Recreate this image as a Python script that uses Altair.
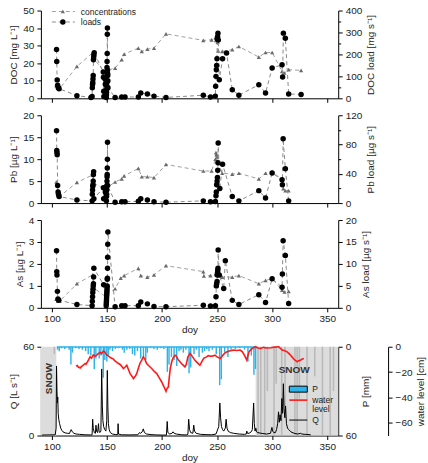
import altair as alt
import pandas as pd

FONT = "Liberation Sans"
X_DOMAIN = [90, 360]
X_TICKS = [100, 150, 200, 250, 300, 350]
PANEL_W = 298
PANEL_H = 88

# ---------------- DOC ----------------
doc_conc_doy = [104.0, 105.5, 107.0, 122.7, 136.9, 137.5, 138.2, 149.0, 150.0, 157.4, 163.4, 165.6,
                178.5, 181.6, 186.7, 192.7, 203.6, 237.5, 245.0, 248.5, 249.0, 249.5, 250.0, 250.5,
                251.0, 254.7, 263.8, 269.8, 287.9, 294.0, 300.0, 309.0, 311.2, 315.0, 326.3]
doc_conc = [7.2, 6.0, 5.5, 18.2, 25.8, 24.5, 22.5, 14.0, 16.0, 17.2, 22.0, 25.2,
            28.6, 26.7, 28.0, 28.6, 36.7, 33.0, 33.3, 34.5, 33.0, 36.0, 34.0, 32.0,
            27.0, 26.7, 27.7, 29.5, 23.5, 26.1, 26.1, 15.3, 14.4, 16.3, 15.9]
doc_load_doy = [104.2, 104.4, 104.8, 105.2, 105.8, 106.5, 122.7, 135.5,
                136.5, 136.7, 136.9, 137.1, 137.3, 137.5, 137.7, 137.9, 138.1, 138.4,
                146.6, 146.8, 147.0, 147.2, 148.3, 148.5, 148.7,
                149.4, 149.5, 149.6, 149.7, 149.8, 149.9, 150.0, 150.1, 150.2, 150.3, 150.4,
                150.5, 150.6, 150.7, 150.8, 150.9,
                157.4, 163.4, 166.4, 178.5, 180.7, 186.7, 192.7, 203.6, 237.5, 244.0,
                248.4, 248.7, 249.0, 249.3, 249.6, 249.9, 250.2, 250.5, 250.8, 251.1, 252.0,
                255.0, 258.6, 263.8, 269.8, 287.9, 294.0, 300.0, 309.0, 309.5, 310.2, 312.0,
                315.0, 326.3]
doc_load = [222, 168, 84, 60, 48, 44, 12, 4,
            8, 48, 64, 72, 88, 104, 176, 184, 196, 208,
            120, 96, 32, 8, 88, 64, 24,
            4, 16, 28, 40, 56, 72, 140, 168, 204, 292, 320,
            128, 112, 104, 80, 48,
            4, 6, 6, 6, 24, 20, 10, 4, 14, 6,
            10, 55, 100, 130, 150, 180, 270, 280, 297, 266, 85,
            180, 206, 39, 14, 62, 24, 138, 153, 97, 297, 274,
            20, 17]

# ---------------- Pb ----------------
pb_conc_doy = [104.0, 105.5, 107.0, 122.7, 136.9, 137.5, 138.2, 149.0, 150.0, 157.4, 163.4, 165.6,
               178.5, 181.6, 186.7, 192.7, 203.6, 237.5, 245.0, 248.5, 249.0, 249.5, 250.0, 250.5,
               254.7, 263.8, 269.8, 287.9, 294.0, 300.0, 309.0, 310.2, 312.0, 315.0]
pb_conc = [4.8, 1.9, 1.5, 4.7, 6.4, 5.5, 4.5, 3.0, 3.5, 4.8, 5.5, 6.2,
           7.9, 6.0, 6.0, 5.8, 8.8, 7.3, 7.3, 10.0, 11.5, 11.0, 10.5, 9.5,
           6.8, 6.6, 6.8, 5.5, 6.8, 7.2, 5.3, 3.3, 2.8, 2.8]
pb_load_doy = [104.2, 104.4, 104.6, 104.8, 105.2, 105.6, 106.0, 106.5, 122.7,
               136.5, 136.7, 136.9, 137.1, 137.3, 137.5, 137.7, 137.9, 138.1,
               146.8, 147.0, 148.5,
               149.5, 149.6, 149.7, 149.8, 149.9, 150.0, 150.1, 150.2, 150.3, 150.4, 150.5, 150.6,
               157.4, 163.4, 166.4, 178.5, 180.7, 186.7, 192.7, 203.6, 237.5, 244.0,
               248.5, 249.0, 249.3, 249.6, 250.0, 250.3, 250.6, 250.8, 251.0, 252.5,
               255.0, 263.8, 269.8, 287.9, 294.0, 300.0, 309.0, 309.3, 310.0, 312.0, 315.0]
pb_load = [99, 72, 69, 66, 24, 15, 12, 9, 4.2,
           3, 12, 18, 23, 25, 30, 39, 43, 6,
           21, 6, 15,
           3, 9, 12, 18, 24, 30, 36, 39, 48, 60, 83, 24,
           1.2, 1.8, 1.8, 2.4, 6, 4.2, 1.8, 1.2, 3, 1.8,
           2, 10, 15, 25, 30, 35, 45, 55, 82, 20,
           53, 9, 3, 17, 7, 41, 32, 25, 88, 47, 3]

# ---------------- As ----------------
as_conc_doy = [104.0, 105.5, 107.0, 122.7, 136.9, 137.5, 138.2, 149.0, 150.0, 157.4, 162.5, 165.6,
               178.5, 180.7, 186.7, 192.7, 203.6, 237.5, 238.0, 244.0, 248.8, 249.5, 254.7, 263.8,
               269.8, 287.9, 294.0, 300.0, 309.0, 311.2, 315.0]
as_conc = [0.4, 0.3, 0.3, 1.1, 1.5, 1.2, 0.9, 0.5, 0.6, 0.87, 1.35, 1.47,
           1.8, 1.47, 1.4, 1.5, 1.92, 1.65, 1.45, 1.47, 1.55, 1.5, 1.4, 1.4,
           1.47, 1.1, 1.25, 1.32, 0.8, 0.72, 0.75]
as_load_doy = [104.2, 104.4, 104.6, 105.0, 105.5, 106.2, 122.7,
               136.5, 136.7, 136.9, 137.1, 137.3, 137.5, 137.7, 137.9, 138.1,
               147.0, 149.3, 149.4, 149.5, 149.6, 149.7, 149.8, 149.9, 150.0, 150.1, 150.2,
               150.3, 150.4, 150.5, 150.6, 150.7, 150.8,
               157.4, 163.4, 166.4, 178.5, 180.7, 186.7, 192.7, 203.6, 237.5, 244.0,
               248.5, 249.0, 249.3, 249.6, 250.0, 250.2, 250.4, 250.6, 250.8, 251.0, 252.0,
               256.0, 257.5, 263.8, 269.8, 287.9, 294.0, 300.0, 309.0, 309.3, 310.0, 312.0, 315.0]
as_load = [13, 8.25, 7.5, 3.75, 2, 1.75, 0.75,
           0.5, 1.5, 2.5, 3.5, 4.25, 5, 5.5, 7, 9,
           5.25, 0.5, 1, 1.5, 2, 2.5, 3, 3.5, 4, 4.5, 5,
           6.5, 6.75, 9, 11.5, 14.5, 17.25,
           0.25, 0.5, 0.5, 0.5, 1.35, 0.9, 0.3, 0.25, 0.6, 0.4,
           0.5, 2.5, 5, 5.5, 6, 7.5, 8, 8.5, 9, 13.2, 7.5,
           4.4, 10.75, 1.7, 0.75, 3, 1.2, 6.6, 4.7, 7.7, 15.3, 11.9, 1]

# ---------------- Hydrology ----------------
q_doy = [91, 103, 103.8, 104.2, 104.6, 105, 105.3, 105.7, 106.2, 107, 108, 109, 110, 112, 114, 116,
         117, 117.5, 118.5, 120, 122, 125, 130, 135, 136.5, 137, 137.5, 138.5, 139.5, 140, 140.5,
         141.5, 142.3, 142.8, 143.5, 144.5, 145.2, 145.8, 146.3, 147, 148, 149, 149.8, 150.3, 150.8,
         151.3, 152, 153, 155, 158, 159.8, 160.1, 160.5, 163, 170, 178, 179.5, 180.5, 182, 183, 184,
         186, 190, 195, 200, 204, 204.7, 205.3, 207, 209, 210, 211, 213, 218, 222, 223.5, 224.2, 225,
         226, 228, 228.8, 229.5, 231, 235, 240, 245, 249, 250, 251.5, 252.5, 253.2, 254, 255, 256,
         257.5, 258.2, 259, 260, 262, 265, 270, 275, 276.5, 277, 277.6, 279, 281, 282, 283.2, 283.8,
         284.5, 285.2, 285.8, 287, 290, 295, 298.5, 299.8, 300.5, 301.5, 303, 304, 305, 305.8, 306.5,
         307.2, 308, 308.8, 309.5, 310.2, 310.8, 311.5, 312.2, 313, 314, 315, 317, 320, 323, 326, 327,
         330, 335]
q_val = [0.3, 0.5, 5, 47, 30, 22, 26, 15, 11, 8, 5, 3.5, 2.5, 1.8, 1.5, 1.4,
         3.5, 4, 2.5, 1.5, 1, 0.8, 0.5, 0.4, 0.5, 11, 5, 2, 1.5, 7, 3,
         2, 8, 3, 2, 3, 45, 20, 10, 6, 4, 3, 10, 44, 20,
         8, 4, 2, 1, 0.6, 0.7, 8, 1, 0.5, 0.4, 0.5, 2, 1.5, 2.5, 4.5, 2,
         1, 0.6, 0.4, 0.3, 0.3, 9.5, 2, 1, 1.5, 2.5, 1.5, 1, 0.5, 0.4, 0.8, 11, 4,
         2, 1.5, 7, 3, 1.5, 0.8, 0.6, 0.5, 1, 3, 6, 22, 12, 6, 4, 3,
         5, 11, 5, 3, 2, 1.5, 1, 0.8, 1, 3, 1.5, 1.5, 2.5, 4, 22, 8,
         3, 5, 2.5, 2, 1.5, 1, 1.5, 5.5, 3, 2, 2, 4, 8, 16, 9,
         14, 10, 25, 15, 35, 18, 12, 20, 8, 5, 4, 2.5, 1.5, 1, 1.5, 1,
         0.8, 0.5]

p_doy = [104.5, 106, 108, 111, 115, 116.6, 118, 121, 124, 127, 130, 132.3, 134.7, 137.8, 139.3,
         142.3, 143.8, 146, 147.4, 149.2, 150.5, 152, 154.4, 157, 160, 163.4, 165, 167.4, 170,
         172.5, 174.6, 177, 180, 182.5, 184.6, 186, 189, 192, 195, 198, 201, 204.2, 205.7, 207.9,
         210.3, 212.7, 214.8, 216.5, 218.7, 221, 223.9, 225.4, 228.4, 230.5, 233, 236, 238, 240,
         242, 245, 248.6, 251.7, 253.2, 256.2, 259.2, 262, 266, 270, 274.3, 277.4, 280.4, 282.8,
         284.2]
p_mm = [2, 3, 1, 1.5, 2, 12, 4, 1, 1.5, 2, 3, 5, 6, 15, 8,
        8, 6, 21, 9, 10, 6, 2, 3, 1.5, 1, 2, 4, 2, 1.5,
        5, 6, 3, 8, 7, 9, 4, 1, 1.5, 2, 1, 1.5, 17, 12, 7,
        9, 13, 3, 2, 4, 2, 18, 14, 5, 2, 7, 4, 3, 1.5,
        3, 2, 5, 26, 22, 4, 7, 2, 1.5, 1, 2, 10, 6, 19,
        15]

snowfall_doy = [101.5, 286.5, 289, 292.5, 295, 301, 303, 308, 311, 320, 322, 324,
                331, 338, 345, 352, 355]
snowfall_mm = [5, 60, 60, 60, 30, 60, 25, 60, 40, 60, 60, 35,
               60, 20, 60, 60, 30]

snow_start = [90, 285]
snow_end = [104, 360]

wl_doy = [122, 123, 124, 125.7, 127, 128.5, 130.2, 131, 132.5, 134.7, 136, 137.5, 139, 140.8, 142,
          143.8, 145, 146.8, 148, 149.8, 151, 153, 155.9, 157, 158.5, 160.4, 162, 163.5, 165, 166.5,
          168, 169.5, 171, 172.5, 174, 175.5, 177, 178.5, 180, 181.6, 183, 184.5, 186, 188, 190.6,
          193, 195.2, 197.5, 199.7, 201.5, 203.6, 204.5, 205.7, 206.5, 207.5, 208.8, 210, 211.8,
          213, 214.5, 216.3, 218, 220.8, 222, 223.5, 225.4, 227, 228.5, 229.9, 232, 234.4, 236,
          238, 240.5, 242, 244, 246.5, 248, 250, 253, 255, 257, 259, 262, 265, 268, 271, 273, 275,
          277, 278, 279, 280.5, 282, 285, 287, 289.5, 292, 295, 298.6, 302, 306, 309, 311, 313.6,
          316, 318, 320, 322.7, 324, 325.7, 327, 328.8]
wl_cm = [-15.4, -14.8, -16, -16.7, -15.5, -14.5, -13.2, -13.8, -11.5, -8, -9, -6.5, -7.5, -6.6, -5.5,
         -4.5, -5.5, -3.4, -4, -6.6, -7, -8.5, -9.8, -11, -12, -13.2, -14, -15.5, -17.2, -16,
         -14.6, -18, -21.2, -23, -25.2, -23.5, -21.2, -17, -13, -10.6, -8, -10, -13.2, -15, -17.2,
         -19.5, -21.2, -24.5, -27.8, -31, -35.2, -33, -31.8, -25, -17, -11.9, -9, -6.6,
         -7.5, -10, -11.9, -13.5, -15.9, -14, -8, -5.3, -7, -9, -10.6, -12.5, -14.6, -12,
         -9, -8, -7, -7.5, -7.2, -6.6, -8, -9.3, -7, -5, -4, -3.2, -2.6, -3, -2.6, -4, -7,
         -10.6, -7, -4, -2.5, -1.3, 0, -1, -1.3, -0.5, -1, -0.8, -0.3, 0, -2.6, -3, -4,
         -6, -8, -10, -11.9, -11, -10.6, -9.8, -9.3]

AXIS_COMMON = dict(tickSize=4, labelPadding=3, titlePadding=4, grid=False)


def x_enc(field, last):
    ax = alt.Axis(values=X_TICKS, labels=last, title="doy" if last else None,
                  tickSize=4, labelPadding=2, titlePadding=1, grid=False)
    return alt.X(f"{field}:Q", scale=alt.Scale(domain=X_DOMAIN, nice=False, zero=False), axis=ax)


def right_axis(title, major, minor):
    """Right-hand axis with labelled major ticks and shorter unlabelled minor ticks."""
    values = sorted(set(major) | set(minor))
    major_test = " || ".join(f"datum.value == {v}" for v in major)
    return alt.Axis(orient="right", values=values, title=title, titleAngle=270, titleBaseline="top",
                    labelExpr=f"({major_test}) ? datum.label : ''",
                    tickSize={"condition": {"test": major_test, "value": 4}, "value": 2.5},
                    labelPadding=3, titlePadding=4, grid=False)


def chem_panel(cdoy, cval, ldoy, lval, ltitle, rtitle, lmax, rmax, lticks, rticks, rminor,
               last=False, extra=None):
    conc = pd.DataFrame({"doy": cdoy, "value": cval})
    load = pd.DataFrame({"doy": ldoy, "value": lval})
    yl = alt.Y("value:Q", scale=alt.Scale(domain=[0, lmax], nice=False),
               axis=alt.Axis(orient="left", values=lticks, title=ltitle, **AXIS_COMMON))
    yr = alt.Y("value:Q", scale=alt.Scale(domain=[0, rmax], nice=False),
               axis=right_axis(rtitle, rticks, rminor))
    bc = alt.Chart(conc).encode(x=x_enc("doy", last), y=yl)
    bl = alt.Chart(load).encode(x=x_enc("doy", last), y=yr)
    conc_layer = alt.layer(
        bc.mark_line(color="#a0a0a0", strokeWidth=1, strokeDash=[4, 3]),
        bc.mark_point(shape="triangle-up", filled=True, color="#6a6a6a", size=18, opacity=1),
    )
    load_layer = alt.layer(
        bl.mark_line(color="#8a8a8a", strokeWidth=1, strokeDash=[4, 3]),
        bl.mark_circle(color="#000000", size=30, opacity=1),
    )
    layers = [conc_layer, load_layer]
    if extra:
        layers += extra
    return alt.layer(*layers).resolve_scale(y="independent").properties(width=PANEL_W, height=PANEL_H)


# legend for the chemistry series
legend_rows = pd.DataFrame({"label": ["concentrations", "loads"], "row": [0, 1]})
leg_line_c = alt.Chart(legend_rows).transform_filter("datum.row == 0").mark_rule(
    color="#a0a0a0", strokeDash=[4, 3]).encode(x=alt.value(11), x2=alt.value(34), y=alt.value(1))
leg_line_l = alt.Chart(legend_rows).transform_filter("datum.row == 1").mark_rule(
    color="#8a8a8a", strokeDash=[4, 3]).encode(x=alt.value(11), x2=alt.value(34), y=alt.value(11.5))
leg_tri = alt.Chart(legend_rows).transform_filter("datum.row == 0").mark_point(
    shape="triangle-up", filled=True, color="#6a6a6a", size=18, opacity=1).encode(
    x=alt.value(22), y=alt.value(1))
leg_dot = alt.Chart(legend_rows).transform_filter("datum.row == 1").mark_circle(
    color="#000000", size=30, opacity=1).encode(x=alt.value(22), y=alt.value(11.5))
leg_text = alt.Chart(legend_rows).mark_text(align="left", baseline="middle", fontSize=8.5,
                                             font=FONT, color="#222222").encode(
    x=alt.value(40), y=alt.Y("row:Q", scale=alt.Scale(domain=[0, 1], range=[1, 11.5]), axis=None),
    text="label:N")

p1 = chem_panel(doc_conc_doy, doc_conc, doc_load_doy, doc_load,
                "DOC [mg L⁻¹]", "DOC load [mg s⁻¹]", 50, 400,
                [0, 10, 20, 30, 40, 50], [0, 100, 200, 300, 400], [50, 150, 250, 350],
                extra=[alt.layer(leg_line_c, leg_line_l, leg_tri, leg_dot, leg_text)])
p2 = chem_panel(pb_conc_doy, pb_conc, pb_load_doy, pb_load,
                "Pb [µg L⁻¹]", "Pb load [µg s⁻¹]", 20, 120,
                [0, 5, 10, 15, 20], [0, 40, 80, 120], [20, 60, 100])
p3 = chem_panel(as_conc_doy, as_conc, as_load_doy, as_load,
                "As [µg L⁻¹]", "As load [µg s⁻¹]", 4, 20,
                [0, 1, 2, 3, 4], [0, 5, 10, 15, 20], [], last=True)

# ---------------- hydrology panel ----------------
p_df = pd.DataFrame({"start": p_doy, "end": [d + 1.3 for d in p_doy], "p": p_mm})
p_span = pd.DataFrame({"start": [min(p_doy)], "end": [max(p_doy) + 1.3]})
sf_df = pd.DataFrame({"start": snowfall_doy, "end": [d + 1.4 for d in snowfall_doy], "p": snowfall_mm})
snow_df = pd.DataFrame({"start": snow_start, "end": snow_end})
q_df = pd.DataFrame({"doy": q_doy, "q": q_val})
wl_df = pd.DataFrame({"doy": wl_doy, "wl": wl_cm})

P_BLUE = "#2cb3ea"
p_scale = alt.Scale(domain=[0, 60], reverse=True, nice=False)
p_axis = alt.Axis(orient="right", values=[0, 10, 20, 30, 40, 50, 60], title="P [mm]",
                  titleAngle=270, titleBaseline="top", **AXIS_COMMON)

snow_bg = alt.Chart(snow_df).mark_rect(color="#dcdcdc").encode(
    x=x_enc("start", True), x2="end", y=alt.value(0), y2=alt.value(PANEL_H + 1))
snowfall = alt.Chart(sf_df).mark_rect(color="#b9b9b9").encode(
    x=x_enc("start", True), x2="end",
    y=alt.Y("p:Q", scale=p_scale, axis=p_axis), y2=alt.datum(0))
rain = alt.Chart(p_df).mark_rect(color=P_BLUE).encode(
    x=x_enc("start", True), x2="end",
    y=alt.Y("p:Q", scale=p_scale, axis=p_axis), y2=alt.datum(0))
rain_base = alt.Chart(p_span).mark_rule(color=P_BLUE, strokeWidth=1.5).encode(
    x=x_enc("start", True), x2="end", y=alt.datum(0.2, scale=p_scale))
p_group = alt.layer(snow_bg, snowfall, rain, rain_base)

wl_line = alt.Chart(wl_df).mark_line(color="#ff1a1a", strokeWidth=1.6).encode(
    x=x_enc("doy", True),
    y=alt.Y("wl:Q", scale=alt.Scale(domain=[-70, 0], nice=False),
            axis=alt.Axis(orient="right", offset=50, values=[0, -20, -40, -60],
                          title="water level [cm]", titleAngle=270, titleBaseline="top",
                          **AXIS_COMMON)))

q_enc_y = alt.Y("q:Q", scale=alt.Scale(domain=[0, 60], nice=False),
                axis=alt.Axis(orient="left", values=[0, 10, 20, 30, 40, 50, 60],
                              title="Q [L s⁻¹]", **AXIS_COMMON))
q_line = alt.Chart(q_df).mark_line(color="#000000", strokeWidth=1).encode(
    x=x_enc("doy", True), y=q_enc_y)

snow_lbl = pd.DataFrame({"doy": [97.2, 320], "q": [38.4, 44.5], "t": ["SNOW", "SNOW"]})
snow_v = alt.Chart(snow_lbl.iloc[[0]]).mark_text(angle=270, fontWeight="bold", fontSize=10,
                                                  font=FONT, color="#333333").encode(
    x=x_enc("doy", True), y=alt.Y("q:Q", scale=alt.Scale(domain=[0, 60], nice=False)), text="t:N")
snow_h = alt.Chart(snow_lbl.iloc[[1]]).mark_text(fontWeight="bold", fontSize=10,
                                                  font=FONT, color="#333333").encode(
    x=x_enc("doy", True), y=alt.Y("q:Q", scale=alt.Scale(domain=[0, 60], nice=False)), text="t:N")
q_group = alt.layer(q_line, snow_v, snow_h)

# legend for the hydrology panel
hyd_leg = pd.DataFrame({"label": ["P", "water", "level", "Q"], "yy": [42.5, 53.5, 62, 73.5]})
leg_box = alt.Chart(hyd_leg).transform_filter("datum.label == 'P'").mark_rect(
    color=P_BLUE, stroke="#000000", strokeWidth=1).encode(
    x=alt.value(249), x2=alt.value(267), y=alt.value(39.5), y2=alt.value(45.5))
leg_red = alt.Chart(hyd_leg).transform_filter("datum.label == 'water'").mark_rule(
    color="#ff1a1a", strokeWidth=1.6).encode(x=alt.value(249), x2=alt.value(267), y=alt.value(53.5))
leg_blk = alt.Chart(hyd_leg).transform_filter("datum.label == 'Q'").mark_rule(
    color="#000000", strokeWidth=1).encode(x=alt.value(249), x2=alt.value(267), y=alt.value(73.5))
leg_txt = alt.Chart(hyd_leg).mark_text(align="left", baseline="middle", fontSize=8.5,
                                        font=FONT, color="#222222").encode(
    x=alt.value(272), y=alt.Y("yy:Q", scale=alt.Scale(domain=[0, PANEL_H], range=[0, PANEL_H]), axis=None),
    text="label:N")
leg_group = alt.layer(leg_box, leg_red, leg_blk, leg_txt)

p4 = alt.layer(p_group, wl_line, q_group, leg_group).resolve_scale(y="independent").properties(
    width=PANEL_W, height=PANEL_H + 1)

chart = alt.vconcat(p1, p2, p3, p4, spacing=7).configure(
    font=FONT, padding={"left": 8, "top": 5, "right": 2, "bottom": 2}
).configure_axis(
    labelFont=FONT, titleFont=FONT, labelFontSize=10, titleFontSize=10,
    titleFontWeight="normal", labelColor="#222222", titleColor="#222222",
    domainColor="#000000", tickColor="#000000", domainWidth=1, tickWidth=1
).configure_view(stroke=None)

chart.save("out.html", embed_options={"renderer": "svg", "actions": False})
